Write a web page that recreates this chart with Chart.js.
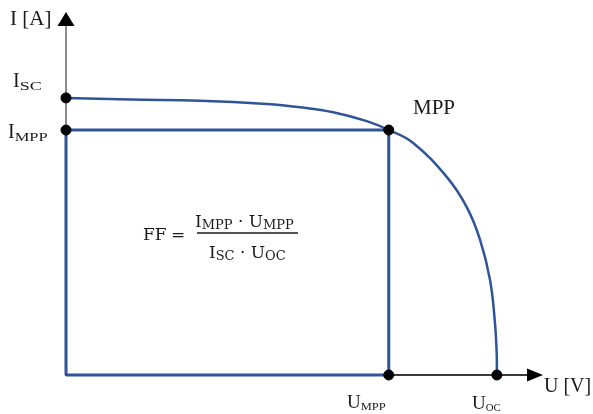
<!DOCTYPE html>
<html>
<head>
<meta charset="utf-8">
<script src="https://cdn.jsdelivr.net/npm/chart.js@4.4.1/dist/chart.umd.min.js"></script>
<style>
  html, body { margin: 0; background: #fff; }
</style>
</head>
<body>
<canvas id="ivChart" width="593" height="414"></canvas>
<script>
// I-U curve (normalised units, Uoc = 10, Isc = 5)
const curveU = [0, 1.49, 3.11, 4.66, 5.43, 6.20, 6.98, 7.49, 8.05, 8.84, 9.30, 9.61, 9.84, 9.95, 9.995, 10.0];
const curveI = [5.0, 4.97, 4.95, 4.89, 4.83, 4.74, 4.58, 4.42, 4.19, 3.57, 3.03, 2.44, 1.72, 0.99, 0.40, 0];

const Isc = 5.0;
const Impp = 4.42;
const Umpp = 7.49;
const Uoc = 10.0;

// marked points: Isc, Impp, MPP, Umpp, Uoc
const pointU = [0, 0, Umpp, Umpp, Uoc];
const pointI = [Isc, Impp, Impp, 0, 0];

const uMax = 11.07;
const iMax = 6.55;

const blue = "#2f5597";
const serif = "'Liberation Serif', 'Times New Roman', serif";
const mathFont = "'DejaVu Serif', serif";

// main letter + stretched subscript
function drawSub(ctx, main, sub, x, y, size, subSize, subDy, subWidth, family) {
    family = family || serif;
    ctx.font = size + "px " + family;
    ctx.fillText(main, x, y);
    const w = ctx.measureText(main).width;
    ctx.font = subSize + "px " + family;
    const sw = ctx.measureText(sub).width;
    const target = subWidth || sw;
    ctx.save();
    ctx.translate(x + w, y + subDy);
    ctx.scale(target / sw, 1);
    ctx.fillText(sub, 0, 0);
    ctx.restore();
    return w + target;
}

const axesPlugin = {
    id: "axesPlugin",
    beforeDatasetsDraw(chart) {
        const { ctx, scales: { x, y } } = chart;
        const x0 = x.getPixelForValue(0);
        const y0 = y.getPixelForValue(0);
        const top = y.getPixelForValue(iMax);
        const right = x.getPixelForValue(uMax);
        ctx.save();
        // y axis
        ctx.strokeStyle = "#8c8c8c";
        ctx.lineWidth = 2;
        ctx.beginPath();
        ctx.moveTo(x0, y0);
        ctx.lineTo(x0, top + 12);
        ctx.stroke();
        ctx.fillStyle = "#000";
        ctx.beginPath();
        ctx.moveTo(x0, top);
        ctx.lineTo(x0 - 8.5, top + 14);
        ctx.lineTo(x0 + 8.5, top + 14);
        ctx.closePath();
        ctx.fill();
        // x axis
        ctx.strokeStyle = "#3a3a3a";
        ctx.beginPath();
        ctx.moveTo(x0 - 1, y0);
        ctx.lineTo(right - 14, y0);
        ctx.stroke();
        ctx.beginPath();
        ctx.moveTo(right, y0);
        ctx.lineTo(right - 16, y0 - 6.5);
        ctx.lineTo(right - 16, y0 + 6.5);
        ctx.closePath();
        ctx.fill();
        ctx.restore();
    },
    afterDatasetsDraw(chart) {
        const { ctx } = chart;
        ctx.save();
        ctx.fillStyle = "#1a1a1a";
        ctx.textBaseline = "alphabetic";
        ctx.textAlign = "left";

        ctx.font = "21px " + serif;
        ctx.fillText("I [A]", 10, 25);
        ctx.fillText("MPP", 413, 114);
        ctx.font = "20px " + serif;
        ctx.fillText("U [V]", 544, 392);

        drawSub(ctx, "I", "SC", 13, 87, 20, 12, 3, 22);
        drawSub(ctx, "I", "MPP", 8, 138, 20, 12, 3, 33);
        drawSub(ctx, "U", "MPP", 347, 408, 19, 11, 2, 25);
        drawSub(ctx, "U", "OC", 472, 409, 19, 11, 2, 15);

        // fill factor formula
        ctx.font = "17px " + mathFont;
        ctx.fillText("FF", 143, 240);
        ctx.fillText("=", 171, 240);
        ctx.strokeStyle = "#1a1a1a";
        ctx.lineWidth = 1.3;
        ctx.beginPath();
        ctx.moveTo(197, 233);
        ctx.lineTo(298, 233);
        ctx.stroke();
        let cx = 195;
        cx += drawSub(ctx, "I", "MPP", cx, 227, 17, 13, 2, 0, mathFont);
        ctx.font = "17px " + mathFont;
        ctx.fillText(" · ", cx, 227);
        cx += ctx.measureText(" · ").width;
        drawSub(ctx, "U", "MPP", cx, 227, 17, 13, 2, 0, mathFont);
        cx = 209;
        cx += drawSub(ctx, "I", "SC", cx, 258, 17, 13, 2, 0, mathFont);
        ctx.font = "17px " + mathFont;
        ctx.fillText(" · ", cx, 258);
        cx += ctx.measureText(" · ").width;
        drawSub(ctx, "U", "OC", cx, 258, 17, 13, 2, 0, mathFont);
        ctx.restore();
    }
};

new Chart(document.getElementById("ivChart"), {
    type: "scatter",
    data: {
        datasets: [
            {
                label: "I-U",
                data: curveU.map((u, i) => ({ x: u, y: curveI[i] })),
                showLine: true,
                borderColor: blue,
                borderWidth: 2.5,
                pointRadius: 0,
                tension: 0.4,
                clip: false,
                order: 2
            },
            {
                label: "rect",
                data: [
                    { x: 0, y: 0 }, { x: 0, y: Impp }, { x: Umpp, y: Impp },
                    { x: Umpp, y: 0 }, { x: 0, y: 0 }
                ],
                showLine: true,
                borderColor: blue,
                borderWidth: 3,
                pointRadius: 0,
                clip: false,
                order: 3
            },
            {
                label: "points",
                data: pointU.map((u, i) => ({ x: u, y: pointI[i] })),
                backgroundColor: "#000",
                borderColor: "#000",
                pointRadius: 5,
                clip: false,
                order: 1
            }
        ]
    },
    options: {
        responsive: false,
        animation: false,
        devicePixelRatio: 1,
        layout: { padding: { left: 66, right: 50, top: 12, bottom: 39 } },
        plugins: { legend: { display: false }, tooltip: { enabled: false } },
        scales: {
            x: { type: "linear", min: 0, max: uMax, display: false },
            y: { type: "linear", min: 0, max: iMax, display: false }
        }
    },
    plugins: [axesPlugin]
});
</script>
</body>
</html>
